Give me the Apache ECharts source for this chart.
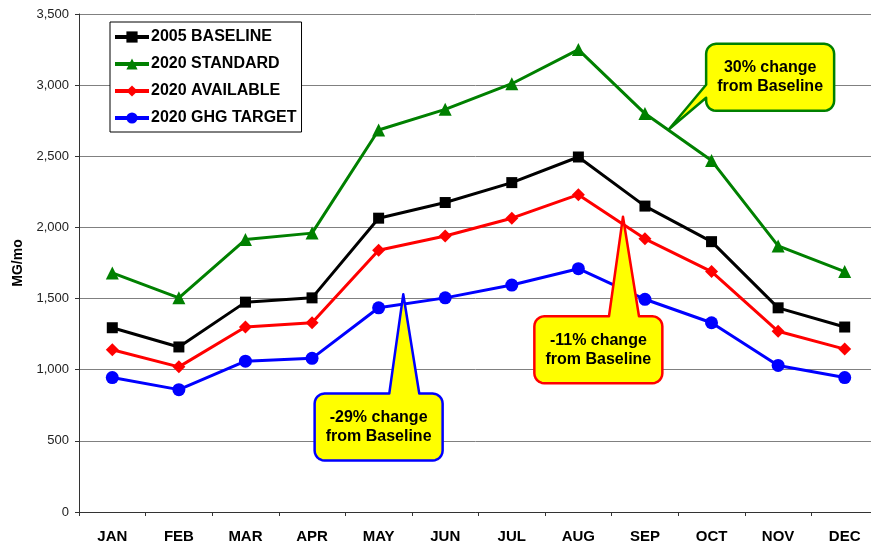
<!DOCTYPE html>
<html>
<head>
<meta charset="utf-8">
<script src="https://cdn.jsdelivr.net/npm/echarts@6/dist/echarts.min.js"></script>
<style>
  html, body { margin: 0; padding: 0; background: #fff; }
  #main { width: 871px; height: 546px; }
</style>
</head>
<body>
<div id="main"></div>
<script>
// months
var months = ['JAN', 'FEB', 'MAR', 'APR', 'MAY', 'JUN', 'JUL', 'AUG', 'SEP', 'OCT', 'NOV', 'DEC'];
// MG per month
var baseline2005 = [1295, 1160, 1475, 1505, 2065, 2175, 2315, 2495, 2150, 1900, 1435, 1300];
var standard2020 = [1680, 1505, 1915, 1960, 2685, 2830, 3010, 3250, 2800, 2470, 1870, 1690];
var available2020 = [1140, 1020, 1300, 1330, 1840, 1940, 2065, 2230, 1920, 1690, 1270, 1145];
var ghgTarget2020 = [945, 860, 1060, 1080, 1435, 1505, 1595, 1710, 1495, 1330, 1030, 945];

// callouts: tip and box centre in data units (month index, MG)
var callouts = [
    { text: '30% change\nfrom Baseline', border: '#008000', tip: [8.36, 2690], box: [9.88, 3055], side: 'left' },
    { text: '-29% change\nfrom Baseline', border: '#0000ff', tip: [4.37, 1530], box: [4.0, 597], side: 'top' },
    { text: '-11% change\nfrom Baseline', border: '#ff0000', tip: [7.67, 2075], box: [7.3, 1140], side: 'top' }
];

var chart = echarts.init(document.getElementById('main'));

var font = 'Arial, "Liberation Sans", sans-serif';

function line(name, data, color, symbol, size) {
    return {
        name: name,
        type: 'line',
        data: data,
        symbol: symbol,
        symbolSize: size,
        lineStyle: { color: color, width: 3 },
        itemStyle: { color: color },
        z: 3
    };
}

chart.setOption({
    animation: false,
    grid: { left: 79, right: -7, top: 14, bottom: 34, containLabel: false, outerBoundsMode: 'none' },
    legend: {
        orient: 'vertical',
        left: 110,
        top: 22,
        padding: [7, 5, 6, 3],
        itemWidth: 34,
        itemHeight: 14,
        itemGap: 11,
        backgroundColor: '#fff',
        borderColor: '#000',
        borderWidth: 1,
        lineStyle: { width: 4 },
        textStyle: { fontFamily: font, fontWeight: 'bold', fontSize: 16, color: '#000', padding: [0, 0, 0, -3] },
        data: ['2005 BASELINE', '2020 STANDARD', '2020 AVAILABLE', '2020 GHG TARGET']
    },
    xAxis: {
        type: 'category',
        data: months,
        axisLine: { lineStyle: { color: '#333', width: 1 } },
        axisTick: { show: true, length: 4, lineStyle: { color: '#333' } },
        axisLabel: { fontFamily: font, fontWeight: 'bold', fontSize: 15, color: '#000', margin: 17 }
    },
    yAxis: {
        type: 'value',
        min: 0,
        max: 3500,
        interval: 500,
        name: 'MG/mo',
        nameLocation: 'middle',
        nameGap: 52,
        nameRotate: 90,
        nameTextStyle: { fontFamily: font, fontWeight: 'bold', fontSize: 14, color: '#000' },
        axisLine: { show: true, lineStyle: { color: '#333', width: 1 } },
        axisTick: { show: true, length: 4, lineStyle: { color: '#333' } },
        axisLabel: {
            fontFamily: font, fontSize: 13, color: '#222', margin: 10,
            formatter: function (v) { return v.toLocaleString('en-US'); }
        },
        splitLine: { lineStyle: { color: '#808080', width: 1 } }
    },
    series: [
        line('2005 BASELINE', baseline2005, '#000000', 'rect', 11),
        line('2020 STANDARD', standard2020, '#008000', 'triangle', 13),
        line('2020 AVAILABLE', available2020, '#ff0000', 'diamond', 13),
        line('2020 GHG TARGET', ghgTarget2020, '#0000ff', 'circle', 13)
    ]
});

// month index (may be fractional) + value -> pixel
function toPx(pt) {
    var i = Math.floor(pt[0]);
    var f = pt[0] - i;
    var a = chart.convertToPixel({ gridIndex: 0 }, [i, pt[1]]);
    var b = chart.convertToPixel({ gridIndex: 0 }, [i + 1, pt[1]]);
    return [a[0] + (b[0] - a[0]) * f, a[1]];
}

// rounded box outline with a pointer spliced into one edge
function calloutPoints(c, w, h, tip, side) {
    var r = 10, x0 = c[0] - w / 2, y0 = c[1] - h / 2, x1 = x0 + w, y1 = y0 + h;
    var pts = [];
    function arc(cx, cy, a0, a1) {
        for (var k = 0; k <= 6; k++) {
            var a = a0 + (a1 - a0) * k / 6;
            pts.push([cx + r * Math.cos(a), cy + r * Math.sin(a)]);
        }
    }
    arc(x0 + r, y0 + r, Math.PI, Math.PI * 1.5);
    if (side === 'top') {
        var bx = tip[0];
        pts.push([bx - 14, y0], [tip[0], tip[1]], [bx + 16, y0]);
    }
    arc(x1 - r, y0 + r, -Math.PI / 2, 0);
    arc(x1 - r, y1 - r, 0, Math.PI / 2);
    arc(x0 + r, y1 - r, Math.PI / 2, Math.PI);
    if (side === 'left') {
        pts.push([x0, y1 - 13], [tip[0], tip[1]], [x0, y1 - 26]);
    }
    return pts;
}

var graphics = [];
callouts.forEach(function (co) {
    var tip = toPx(co.tip);
    var ctr = toPx(co.box);
    var w = 128, h = 67;
    graphics.push({
        type: 'polygon',
        shape: { points: calloutPoints(ctr, w, h, tip, co.side) },
        style: { fill: '#ffff00', stroke: co.border, lineWidth: 2.5, lineJoin: 'round' },
        z: 100
    });
    graphics.push({
        type: 'text',
        x: ctr[0],
        y: ctr[1],
        style: {
            text: co.text,
            fill: '#000',
            font: 'bold 16px ' + font,
            align: 'center',
            verticalAlign: 'middle',
            lineHeight: 19
        },
        z: 101
    });
});
chart.setOption({ graphic: graphics });
</script>
</body>
</html>
